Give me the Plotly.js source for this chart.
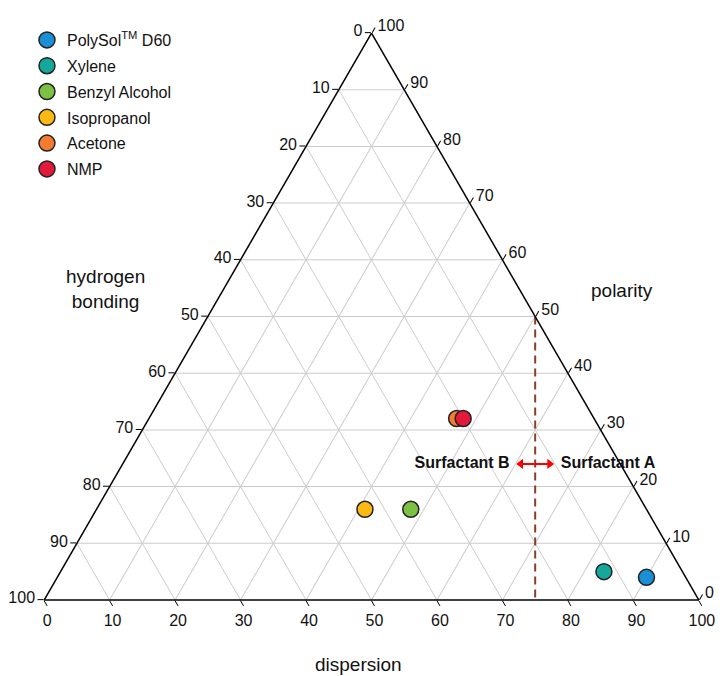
<!DOCTYPE html>
<html>
<head>
<meta charset="utf-8">
<script src="https://cdn.plot.ly/plotly-3.0.1.min.js"></script>
<style>html,body{margin:0;padding:0;background:#fff;}#chart{width:726px;height:676px;}</style>
</head>
<body>
<div id="chart"></div>
<script>
// Solvents (fractional solubility parameters, %)
const solvents = ['PolySol<sup>TM</sup> D60', 'Xylene', 'Benzyl Alcohol', 'Isopropanol', 'Acetone', 'NMP'];
const polarity = [4, 5, 16, 16, 32, 32];
const hydrogenBonding = [6, 12, 36, 43, 21, 20];
const dispersion = [90, 83, 48, 41, 47, 48];
const colors = ['#1b8fd6', '#14a89b', '#7cc143', '#fdb913', '#f47b30', '#e2193b'];

// Surfactant boundary (dashed line)
const boundaryPolarity = [50, 0];
const boundaryHB = [0, 25];
const boundaryDispersion = [50, 75];

// Double arrow between Surfactant B (left) and Surfactant A (right)
const arrowPolarity = [24, 24];
const arrowHB = [15.2, 10.8];
const arrowDisp = [60.8, 65.2];
const arrowLabels = ['Surfactant B', 'Surfactant A'];
const labelPolarity = [24, 24];
const labelHB = [16.9, 9.1];
const labelDisp = [59.1, 66.9];

// Tick values; each edge is labelled with the component that grows along it
const tickVals = [0, 10, 20, 30, 40, 50, 60, 70, 80, 90, 100];
const tickText = tickVals.map(v => String(100 - v));

const FONT = 'Liberation Sans, Arial, Helvetica, sans-serif';

const traces = [];
traces.push({
  type: 'scatterternary', mode: 'lines',
  a: boundaryPolarity, b: boundaryHB, c: boundaryDispersion,
  line: {color: '#8b3e26', width: 2, dash: '8px,5px'},
  showlegend: false, hoverinfo: 'skip'
});
traces.push({
  type: 'scatterternary', mode: 'lines+markers',
  a: arrowPolarity, b: arrowHB, c: arrowDisp,
  line: {color: '#ff0000', width: 2},
  marker: {symbol: ['triangle-left', 'triangle-right'], size: 9, color: '#ff0000'},
  showlegend: false, hoverinfo: 'skip', cliponaxis: false
});
traces.push({
  type: 'scatterternary', mode: 'text',
  a: labelPolarity, b: labelHB, c: labelDisp,
  text: arrowLabels, textposition: ['middle left', 'middle right'],
  textfont: {family: FONT, size: 16, color: '#111', weight: 'bold'},
  showlegend: false, hoverinfo: 'skip', cliponaxis: false
});
solvents.forEach((name, i) => {
  traces.push({
    type: 'scatterternary', mode: 'markers', name: name,
    a: [polarity[i]], b: [hydrogenBonding[i]], c: [dispersion[i]],
    marker: {size: 16, color: colors[i], line: {color: '#222', width: 1.5}},
    legendgroup: 'g' + i, cliponaxis: false
  });
});

const axisBase = {
  title: {text: ''},
  tickmode: 'array', tickvals: tickVals, ticktext: tickText,
  ticks: 'outside', ticklen: 6, tickcolor: '#000', tickwidth: 1,
  linecolor: '#000', linewidth: 1.5,
  gridcolor: '#cccccc', gridwidth: 1, showgrid: true,
  tickfont: {family: FONT, size: 16, color: '#111'},
  min: 0
};

const layout = {
  width: 726, height: 676,
  margin: {l: 44, r: 27, t: 33, b: 76},
  paper_bgcolor: '#fff',
  font: {family: FONT, color: '#111'},
  showlegend: true,
  legend: {x: -0.026, y: 1.0176, xanchor: 'left', yanchor: 'top', tracegroupgap: 2,
           font: {size: 16, color: '#111'}, bgcolor: 'rgba(0,0,0,0)'},
  ternary: {
    sum: 100,
    bgcolor: '#fff',
    domain: {x: [0, 1], y: [0, 1]},
    aaxis: Object.assign({}, axisBase),
    baxis: Object.assign({}, axisBase),
    caxis: Object.assign({}, axisBase)
  },
  annotations: [
    {text: 'hydrogen<br>bonding', xref: 'paper', yref: 'paper', x: (105 - 44) / 655, y: (600 - 289) / 567,
     xanchor: 'center', yanchor: 'middle', showarrow: false, font: {size: 19, color: '#111'}, align: 'center'},
    {text: 'polarity', xref: 'paper', yref: 'paper', x: (622 - 44) / 655, y: (600 - 290) / 567,
     xanchor: 'center', yanchor: 'middle', showarrow: false, font: {size: 19, color: '#111'}},
    {text: 'dispersion', xref: 'paper', yref: 'paper', x: (358 - 44) / 655, y: (600 - 664) / 567,
     xanchor: 'center', yanchor: 'middle', showarrow: false, font: {size: 19, color: '#111'}}
  ]
};

Plotly.newPlot('chart', traces, layout, {displayModeBar: false, staticPlot: true});
</script>
</body>
</html>
